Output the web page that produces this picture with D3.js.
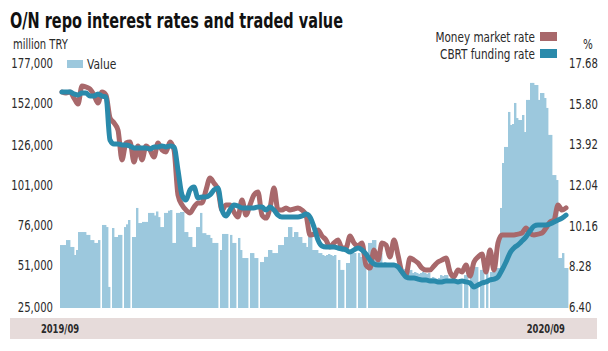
<!DOCTYPE html>
<html><head><meta charset="utf-8">
<script src="https://cdn.jsdelivr.net/npm/d3@7"></script>
<style>
body{margin:0;background:#fff;}
svg text{font-family:'Liberation Sans Narrow','DejaVu Sans Condensed','Roboto Condensed','Arial Narrow',sans-serif;font-stretch:condensed;}
</style></head><body>
<svg id="c" width="608" height="351"></svg>
<script>
const chartTitle = "O/N repo interest rates and traded value";
const leftUnit = "million TRY";
const rightUnit = "%";
const valueTicks = [25000, 51000, 76000, 101000, 126000, 152000, 177000];
const rateTicks = [6.40, 8.28, 10.16, 12.04, 13.92, 15.80, 17.68];
const periodLabels = ["2019/09", "2020/09"];
const seriesNames = ["Value", "Money market rate", "CBRT funding rate"];

// daily traded value, million TRY (0 = no trading day)
const tradedValue = [
63600,63600,63600,66700,66700,62400,62400,57400,60500,71700,
71700,71700,71700,69900,69900,66700,66700,64900,64900,66700,
0,76100,76100,74800,37500,0,74200,68600,68600,69900,
69900,0,74800,76500,79200,0,68600,68600,86700,77300,
77300,78000,78000,78000,83600,83600,83600,82000,84500,81000,
74800,74800,83600,83600,85000,85400,64900,64900,83600,83600,
84200,84200,71700,71700,68600,68600,62400,62400,74800,74800,
83600,71000,71000,69900,69900,68000,64900,64900,64900,0,
60500,70500,70500,70500,0,69900,64900,64900,0,68000,
60500,55500,55500,55500,0,58600,58600,55500,55500,0,
53000,53000,56200,56200,60500,60500,58600,58600,58600,63600,
63600,63600,68600,68600,74800,74800,68600,71700,71700,68600,
68600,64900,64900,62400,68600,68600,60500,60500,60500,58600,
58600,57400,56800,57400,58000,57400,56800,57400,0,54300,
48100,48100,0,52400,52400,58600,58600,58600,0,58600,
56200,56200,56200,0,64900,64900,66700,66700,58600,58600,
58600,52400,53000,51800,52400,51200,49900,50500,49900,49300,
49900,48100,48700,48100,47500,48100,46200,46800,46200,45600,
46200,46800,46200,45600,46200,43100,43700,43100,42500,43100,
44900,44300,44900,44900,40600,41200,40600,40000,40600,41200,
40600,0,44900,44900,0,46800,46800,49900,49900,0,
48100,48100,0,46800,0,46800,46800,46800,49300,49300,
86700,114700,124700,124700,146500,138400,139000,152100,142700,141500,
141500,144600,134000,154000,154000,164600,164600,163300,163300,154000,
158300,158300,155200,149000,132200,132200,107200,107200,104100,55500,
55500,58600,49300,49300
];

// rates sampled every second day, %
const lineStep = 2;
const moneyMarketRate = [
16.34,16.29,16.34,16.06,15.78,16.62,16.57,16.48,16.20,15.83,
16.34,16.20,15.14,14.91,14.58,13.20,13.98,14.03,13.10,13.84,
13.20,13.84,13.66,13.33,13.98,13.66,13.57,14.03,13.66,11.58,
11.12,10.88,10.75,11.02,11.21,11.21,11.81,12.36,12.13,11.81,
10.88,11.12,11.12,10.79,10.56,11.35,10.65,11.12,11.58,11.72,
10.65,10.51,10.98,11.90,10.88,10.88,10.98,10.88,10.93,10.98,
10.88,10.65,9.73,9.77,9.96,9.68,9.50,9.17,9.36,9.50,
9.13,9.13,9.68,9.36,9.22,9.36,8.34,8.20,9.04,8.57,
9.36,9.27,8.71,9.50,8.80,8.02,7.88,8.67,8.57,8.43,
8.20,8.11,8.11,8.30,8.48,8.57,8.67,8.02,7.79,8.11,
8.02,8.34,7.83,8.48,8.71,8.85,8.02,9.04,8.11,9.36,
9.73,9.73,9.73,9.73,9.77,9.82,10.05,9.82,9.73,9.77,
9.82,10.05,10.33,10.42,11.12,10.88,10.98
];
const cbrtFundingRate = [
16.34,16.34,16.34,16.25,16.20,16.29,16.29,16.15,16.15,16.25,
16.15,16.11,14.12,13.94,13.94,13.89,13.89,13.84,13.75,13.75,
13.75,13.75,13.70,13.80,13.80,13.84,13.80,13.84,13.80,12.73,
11.58,11.35,11.81,11.95,11.44,11.49,11.49,11.58,11.81,11.90,
10.88,10.61,10.88,11.12,11.07,10.98,10.98,10.98,10.98,11.02,
11.02,10.88,11.02,10.88,10.65,10.56,10.56,10.56,10.56,10.56,
10.61,10.70,10.56,10.10,9.50,9.22,9.17,9.17,9.17,9.13,
9.08,9.04,8.94,9.04,9.13,9.04,8.85,8.57,8.39,8.34,
8.34,8.34,8.34,8.34,8.25,8.02,7.79,7.74,7.74,7.69,
7.65,7.65,7.60,7.60,7.56,7.56,7.60,7.60,7.60,7.56,
7.60,7.56,7.51,7.32,7.42,7.51,7.56,7.65,7.69,7.79,
8.11,8.48,8.90,9.13,9.27,9.45,9.64,9.91,10.14,10.19,
10.19,10.19,10.24,10.33,10.42,10.51,10.65
];

const colValue = "#9cc8dd", colMMR = "#a8686b", colCBRT = "#2a8aab", txt = "#2a2a2a";
const svg = d3.select("#c");

const x = d3.scaleBand().domain(d3.range(tradedValue.length)).range([60, 568]).padding(0);
const yL = d3.scaleLinear().domain([valueTicks[0], valueTicks[valueTicks.length-1]]).range([307, 63]);
const yR = d3.scaleLinear().domain([rateTicks[0], rateTicks[rateTicks.length-1]]).range([307, 63]);
const bw = x.bandwidth();

// narrow the glyphs to mimic a condensed face
function condense(sel, k) {
  sel.each(function() {
    const w = this.getComputedTextLength();
    d3.select(this).attr("textLength", w * k).attr("lengthAdjust", "spacingAndGlyphs");
  });
}

// bottom band
svg.append("rect").attr("x", 10).attr("y", 318).attr("width", 587).attr("height", 21).attr("fill", "#e6dbda");
const d1 = svg.append("text").attr("x", x(0)).attr("y", 333).attr("text-anchor", "middle")
  .attr("font-size", 13).attr("font-weight", "bold").attr("fill", txt).text(periodLabels[0]);
const d2 = svg.append("text").attr("x", x(tradedValue.length-1) - 1).attr("y", 333).attr("text-anchor", "end")
  .attr("font-size", 13).attr("font-weight", "bold").attr("fill", txt).text(periodLabels[1]);
condense(d1, 0.72); condense(d2, 0.72);

// bars
svg.append("g").selectAll("rect").data(tradedValue.map((v,i)=>({v,i})).filter(d=>d.v>0)).join("rect")
  .attr("x", d => x(d.i)).attr("width", bw + 0.4)
  .attr("y", d => yL(d.v)).attr("height", d => yL(valueTicks[0]) - yL(d.v) + 1)
  .attr("fill", colValue);

// lines
const lineGen = d3.line().x((d,j) => x(j*lineStep) + bw).y(d => yR(d)).curve(d3.curveMonotoneX);
svg.append("path").datum(moneyMarketRate).attr("d", lineGen).attr("fill", "none")
  .attr("stroke", colMMR).attr("stroke-width", 5).attr("stroke-linejoin", "round").attr("stroke-linecap", "round");
svg.append("path").datum(cbrtFundingRate).attr("d", lineGen).attr("fill", "none")
  .attr("stroke", colCBRT).attr("stroke-width", 5).attr("stroke-linejoin", "round").attr("stroke-linecap", "round");

// axes
const ax1 = svg.append("g").attr("transform", "translate(53,0)")
  .call(d3.axisLeft(yL).tickValues(valueTicks).tickFormat(d3.format(",")).tickSize(0).tickPadding(0));
const ax2 = svg.append("g").attr("transform", "translate(569,0)")
  .call(d3.axisRight(yR).tickValues(rateTicks).tickFormat(d3.format(".2f")).tickSize(0).tickPadding(0));
[ax1, ax2].forEach(a => {
  a.select(".domain").remove();
  a.attr("font-family", null).attr("font-size", null);
  a.selectAll("text").attr("font-size", 14).attr("fill", txt).call(condense, 0.8);
});

// title & units
svg.append("text").attr("x", 10).attr("y", 28).attr("font-size", 22).attr("font-weight", "bold")
  .attr("fill", "#111").attr("textLength", 333).attr("lengthAdjust", "spacingAndGlyphs").text(chartTitle);
svg.append("text").attr("x", 13).attr("y", 49).attr("font-size", 13.5).attr("fill", txt).text(leftUnit).call(condense, 0.82);
svg.append("text").attr("x", 588).attr("y", 49).attr("text-anchor", "middle").attr("font-size", 13.5).attr("fill", txt).text(rightUnit).call(condense, 0.85);

// legends
svg.append("rect").attr("x", 67).attr("y", 60).attr("width", 16).attr("height", 8).attr("fill", colValue);
svg.append("text").attr("x", 87).attr("y", 69).attr("font-size", 14).attr("fill", txt).text(seriesNames[0]).call(condense, 0.85);
[[seriesNames[1], colMMR, 32], [seriesNames[2], colCBRT, 49]].forEach(([n,c,y]) => {
  svg.append("rect").attr("x", 540).attr("y", y).attr("width", 17).attr("height", 9).attr("fill", c);
  svg.append("text").attr("x", 535).attr("y", y + 10).attr("text-anchor", "end").attr("font-size", 14).attr("fill", txt).text(n).call(condense, 0.83);
});
</script>
</body></html>
